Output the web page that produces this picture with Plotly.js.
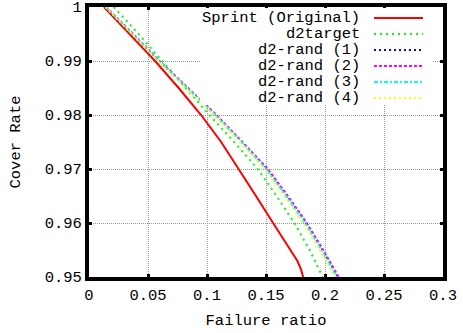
<!DOCTYPE html>
<html>
<head>
<meta charset="utf-8">
<script src="https://cdn.plot.ly/plotly-3.0.1.min.js"></script>
<style>html,body{margin:0;padding:0;background:#fff;}#chart{width:463px;height:333px;}</style>
</head>
<body>
<div id="chart"></div>
<script>
// ---- data ----
const seriesNames = ["Sprint (Original)", "d2target", "d2-rand (1)", "d2-rand (2)", "d2-rand (3)", "d2-rand (4)"];
const sprintX = [0.0127, 0.034, 0.056, 0.076, 0.095, 0.112, 0.127, 0.1415, 0.156, 0.1665, 0.1765, 0.1795, 0.1815];
const sprintY = [1.0, 0.995, 0.99, 0.985, 0.98, 0.975, 0.97, 0.965, 0.96, 0.9565, 0.953, 0.9515, 0.95];
const commonY = [1.0, 0.995, 0.99, 0.985, 0.98, 0.975, 0.97, 0.965, 0.96, 0.955, 0.95];
const d2targetX = [0.021, 0.042, 0.062, 0.082, 0.102, 0.123, 0.143, 0.159, 0.174, 0.187, 0.198];
const rand1X = [0.0144, 0.037, 0.0595, 0.0835, 0.1075, 0.1295, 0.151, 0.168, 0.184, 0.198, 0.211];
const rand2X = [0.0146, 0.0372, 0.0597, 0.0838, 0.108, 0.130, 0.1515, 0.1685, 0.1845, 0.1985, 0.2115];
const rand3X = [0.0142, 0.0368, 0.059, 0.083, 0.107, 0.129, 0.150, 0.167, 0.183, 0.197, 0.210];
const rand4X = [0.014, 0.0365, 0.0585, 0.0822, 0.106, 0.128, 0.1488, 0.1655, 0.1815, 0.1955, 0.2085];
const xTicks = [0, 0.05, 0.1, 0.15, 0.2, 0.25, 0.3];
const yTicks = [0.95, 0.96, 0.97, 0.98, 0.99, 1];

// ---- styles ----
const colors = ["#ff0000", "#00ff00", "#0000ff", "#ff00ff", "#00ffff", "#ffff00"];
const dashes = ["solid", "2px,4px", "2px,3px", "3px,2px", "4px,2px,2px,2px", "2px,3px"];
const FONT = '"Liberation Mono", "Courier New", Courier, monospace';

const xs = [sprintX, d2targetX, rand1X, rand2X, rand3X, rand4X];
const ys = [sprintY, commonY, commonY, commonY, commonY, commonY];

const traces = seriesNames.map((n, i) => ({
  x: xs[i], y: ys[i], name: n, type: "scatter", mode: "lines",
  line: {color: colors[i], width: 2, dash: dashes[i]},
  showlegend: false
}));

// custom gnuplot-style legend: text right-aligned, sample on the right
const legendTop = 0.959, legendStep = 0.0592;
const shapes = [{
  type: "rect", xref: "paper", yref: "paper",
  x0: 0.3136, x1: 0.9718, y0: 0.637, y1: 0.996,
  fillcolor: "#ffffff", line: {width: 0}, layer: "above"
}];
const annotations = [];
seriesNames.forEach((n, i) => {
  const yy = legendTop - i * legendStep;
  shapes.push({
    type: "line", xref: "paper", yref: "paper",
    x0: 0.805, x1: 0.9435, y0: yy, y1: yy,
    line: {color: colors[i], width: 2, dash: dashes[i]}, layer: "above"
  });
  annotations.push({
    xref: "paper", yref: "paper", x: 0.771, y: yy,
    xanchor: "right", yanchor: "middle", showarrow: false, height: 14,
    text: n, font: {family: FONT, size: 15.5, color: "#000"}
  });
});

const layout = {
  width: 463, height: 333,
  margin: {l: 89, r: 20, t: 7, b: 56},
  paper_bgcolor: "#fff", plot_bgcolor: "#fff",
  font: {family: FONT, size: 15.5, color: "#000"},
  xaxis: {
    range: [0, 0.3], tickvals: xTicks, ticktext: xTicks.map(String),
    showline: true, linewidth: 4, linecolor: "#000", mirror: "ticks",
    ticks: "inside", ticklen: 3, tickwidth: 3, tickcolor: "#000",
    showgrid: true, gridcolor: "#999", gridwidth: 1, griddash: "1px,1px",
    zeroline: false, ticklabeloverflow: "allow",
    tickfont: {family: FONT, size: 15.5, color: "#000"},
    title: {text: "Failure ratio", font: {family: FONT, size: 15.5, color: "#000"}, standoff: 12}
  },
  yaxis: {
    range: [0.95, 1], tickvals: yTicks, ticktext: yTicks.map(String),
    showline: true, linewidth: 4, linecolor: "#000", mirror: "ticks",
    ticks: "inside", ticklen: 3, tickwidth: 3, tickcolor: "#000",
    showgrid: true, gridcolor: "#999", gridwidth: 1, griddash: "1px,1px",
    zeroline: false, ticklabeloverflow: "allow",
    tickfont: {family: FONT, size: 15.5, color: "#000"},
    title: {text: "Cover Rate", font: {family: FONT, size: 15.5, color: "#000"}, standoff: 21}
  },
  shapes: shapes,
  annotations: annotations,
  showlegend: false
};

Plotly.newPlot("chart", traces, layout, {displayModeBar: false, staticPlot: true});
</script>
</body>
</html>
